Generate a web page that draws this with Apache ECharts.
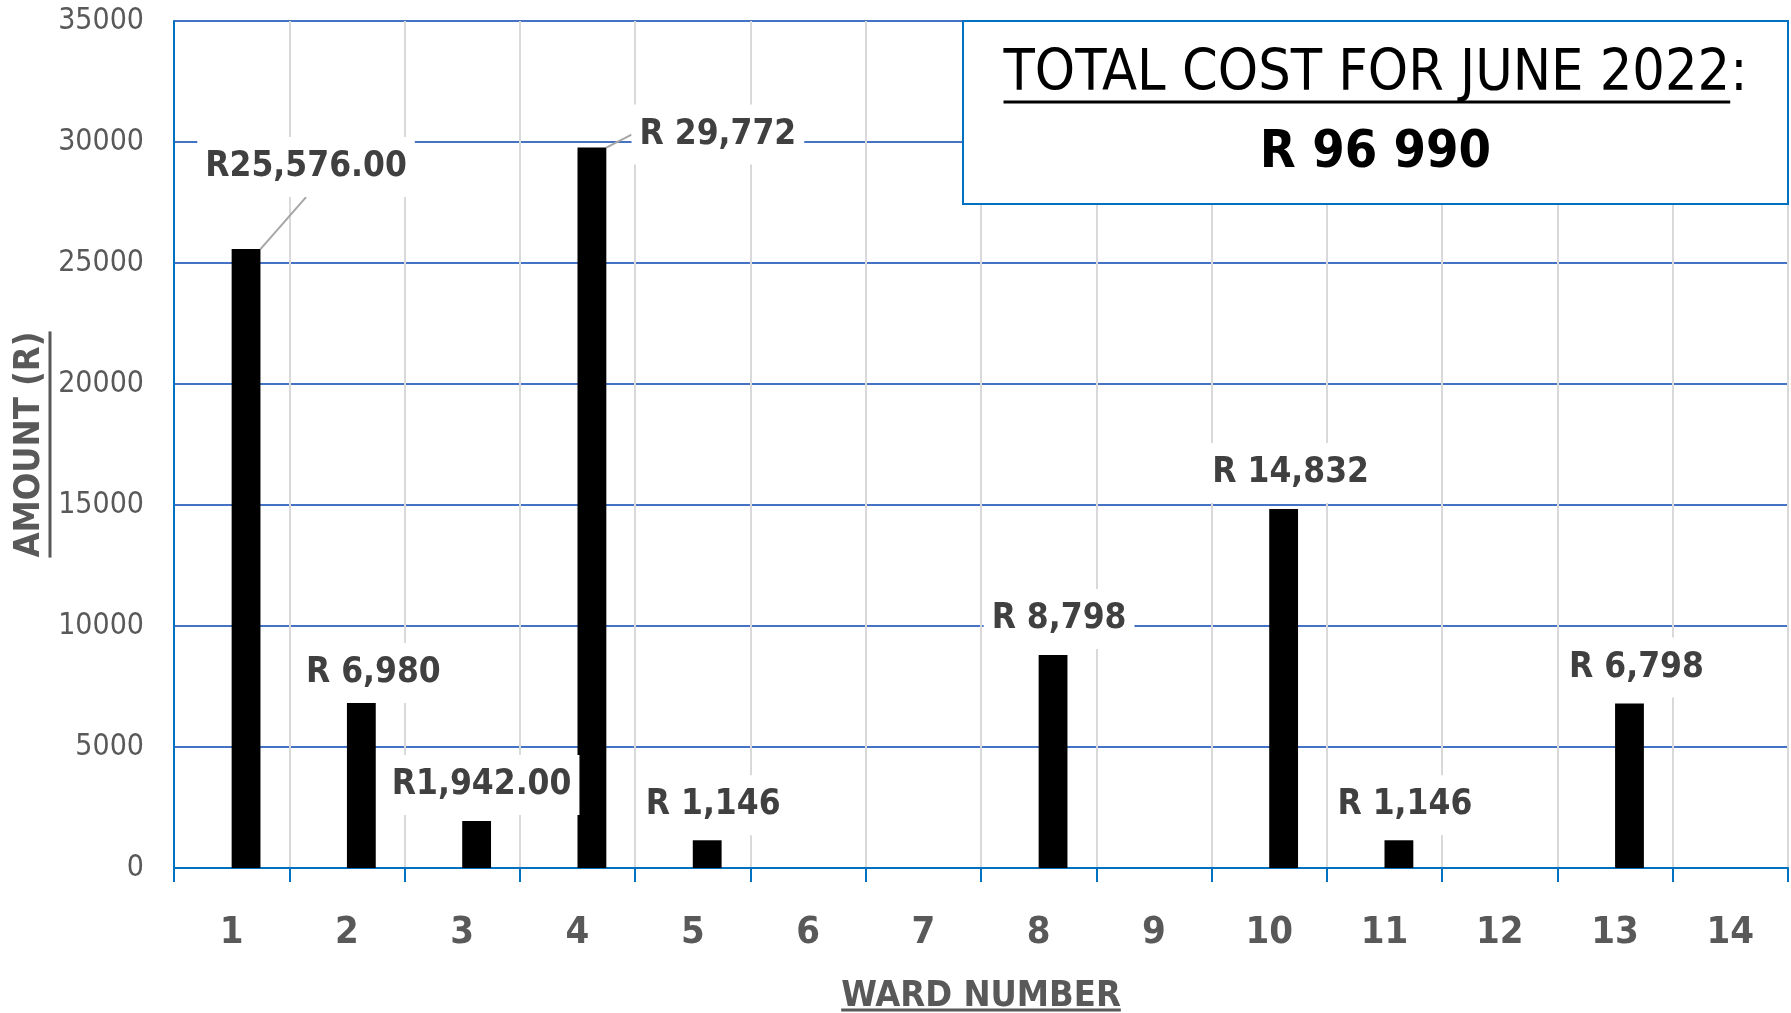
<!DOCTYPE html>
<html>
<head>
<meta charset="utf-8">
<script src="https://cdn.jsdelivr.net/npm/echarts@6/dist/echarts.min.js"></script>
<style>
  html, body { margin: 0; padding: 0; background: #fff; }
  #chart { width: 1791px; height: 1013px; }
</style>
</head>
<body>
<div id="chart"></div>
<script>
var wards = ['1', '2', '3', '4', '5', '6', '7', '8', '9', '10', '11', '12', '13', '14'];
var amounts = [25576, 6980, 1942, 29772, 1146, 0, 0, 8798, 0, 14832, 1146, 0, 6798, 0];
var labelTexts = ['R25,576.00', 'R 6,980', 'R1,942.00', 'R 29,772', 'R 1,146', '', '', 'R 8,798', '', 'R 14,832', 'R 1,146', '', 'R 6,798', ''];
var yMin = 0;
var yMax = 35000;
var yStep = 5000;
var totalTitle = 'TOTAL COST FOR JUNE 2022';
var totalValue = 'R 96 990';

// label nudges (Excel labels were dragged by hand)
var labelShift = {
    0: [60, -52], 1: [12, 4], 2: [5, -6], 3: [126, 17], 4: [6, -5],
    7: [6, -6], 9: [7, -6], 10: [6, -5], 12: [7, -6]
};

var FONT = '"DejaVu Sans Condensed", "Liberation Sans Narrow", sans-serif';
var GREY = '#595959';
var BLUE = '#4472C4';

var measureCtx = document.createElement('canvas').getContext('2d');
function textWidth(txt, font) {
    measureCtx.font = font;
    return measureCtx.measureText(txt).width;
}

var chart = echarts.init(document.getElementById('chart'));

var barData = amounts.map(function (v, i) {
    var item = { value: v };
    if (!v) item.label = { show: false };
    if (i === 0 || i === 3) item.labelLine = { show: true };
    return item;
});

// box + underlines
var boxX = 963, boxY = 21, boxW = 825, boxH = 183;
var titleFont = '57px ' + FONT;
var titleW = textWidth(totalTitle + ':', titleFont);
var colonW = textWidth(':', titleFont);
var titleLeft = boxX + boxW / 2 - titleW / 2;

var nameFont = 'bold 36px ' + FONT;
var xNameW = textWidth('WARD NUMBER', nameFont);
var yNameW = textWidth('AMOUNT (R)', nameFont);
var plotMidX = (174 + 1788) / 2;
var plotMidY = (21 + 868) / 2;

chart.setOption({
    animation: false,
    grid: { left: 174, right: 3, top: 21, bottom: 145, outerBoundsMode: 'none' },
    xAxis: {
        type: 'category',
        data: wards,
        name: 'WARD NUMBER',
        nameLocation: 'middle',
        nameGap: 111,
        nameTextStyle: { color: GREY, fontFamily: FONT, fontWeight: 'bold', fontSize: 36 },
        axisLine: { lineStyle: { color: '#0070C0', width: 2 } },
        axisTick: { show: true, length: 14, lineStyle: { color: '#0070C0', width: 2 } },
        axisLabel: { color: GREY, fontFamily: FONT, fontWeight: 'bold', fontSize: 38, margin: 46 },
        splitLine: { show: true, lineStyle: { color: '#D9D9D9', width: 2 } }
    },
    yAxis: {
        type: 'value',
        min: yMin,
        max: yMax,
        interval: yStep,
        name: 'AMOUNT (R)',
        nameLocation: 'middle',
        nameGap: 116,
        nameTextStyle: { color: GREY, fontFamily: FONT, fontWeight: 'bold', fontSize: 36 },
        axisLine: { show: true, lineStyle: { color: '#0070C0', width: 2 } },
        axisTick: { show: false },
        axisLabel: {
            color: GREY, fontFamily: FONT, fontSize: 30, margin: 30,
            formatter: function (v) { return String(v); }
        },
        splitLine: { show: true, lineStyle: { color: BLUE, width: 2 } }
    },
    series: [{
        // empty first series of the Excel cluster: pushes the bars right of centre
        type: 'bar',
        name: 'spacer',
        data: [],
        barWidth: '25%',
        barGap: '0%'
    }, {
        type: 'bar',
        name: 'Amount',
        data: barData,
        barWidth: '25%',
        barGap: '0%',
        itemStyle: { color: '#000' },
        label: {
            show: true,
            position: 'top',
            distance: 0,
            formatter: function (p) { return labelTexts[p.dataIndex]; },
            color: '#404040',
            fontFamily: FONT,
            fontWeight: 'bold',
            fontSize: 35,
            lineHeight: 40,
            padding: [10, 8],
            backgroundColor: '#fff'
        },
        labelLine: { show: false, lineStyle: { color: '#A6A6A6', width: 2 } },
        labelLayout: function (params) {
            var s = labelShift[params.dataIndex] || [0, 0];
            return { dx: s[0], dy: s[1] };
        }
    }],
    graphic: [
        {
            type: 'rect', z: 100,
            shape: { x: boxX, y: boxY, width: boxW, height: boxH },
            style: { fill: '#fff', stroke: '#0070C0', lineWidth: 2 }
        },
        {
            type: 'text', z: 101, x: boxX + boxW / 2, y: 75,
            style: { text: totalTitle + ':', font: titleFont, fill: '#000', align: 'center', verticalAlign: 'middle' }
        },
        {
            type: 'line', z: 101,
            shape: { x1: titleLeft, y1: 102, x2: titleLeft + titleW - colonW, y2: 102 },
            style: { stroke: '#000', lineWidth: 3 }
        },
        {
            type: 'text', z: 101, x: boxX + boxW / 2, y: 153,
            style: { text: totalValue, font: 'bold 52px ' + FONT, fill: '#000', align: 'center', verticalAlign: 'middle' }
        },
        {
            type: 'line', z: 101,
            shape: { x1: plotMidX - xNameW / 2, y1: 1010, x2: plotMidX + xNameW / 2, y2: 1010 },
            style: { stroke: GREY, lineWidth: 3 }
        },
        {
            type: 'line', z: 101,
            shape: { x1: 50, y1: plotMidY - yNameW / 2, x2: 50, y2: plotMidY + yNameW / 2 },
            style: { stroke: GREY, lineWidth: 3 }
        }
    ]
});
</script>
</body>
</html>
